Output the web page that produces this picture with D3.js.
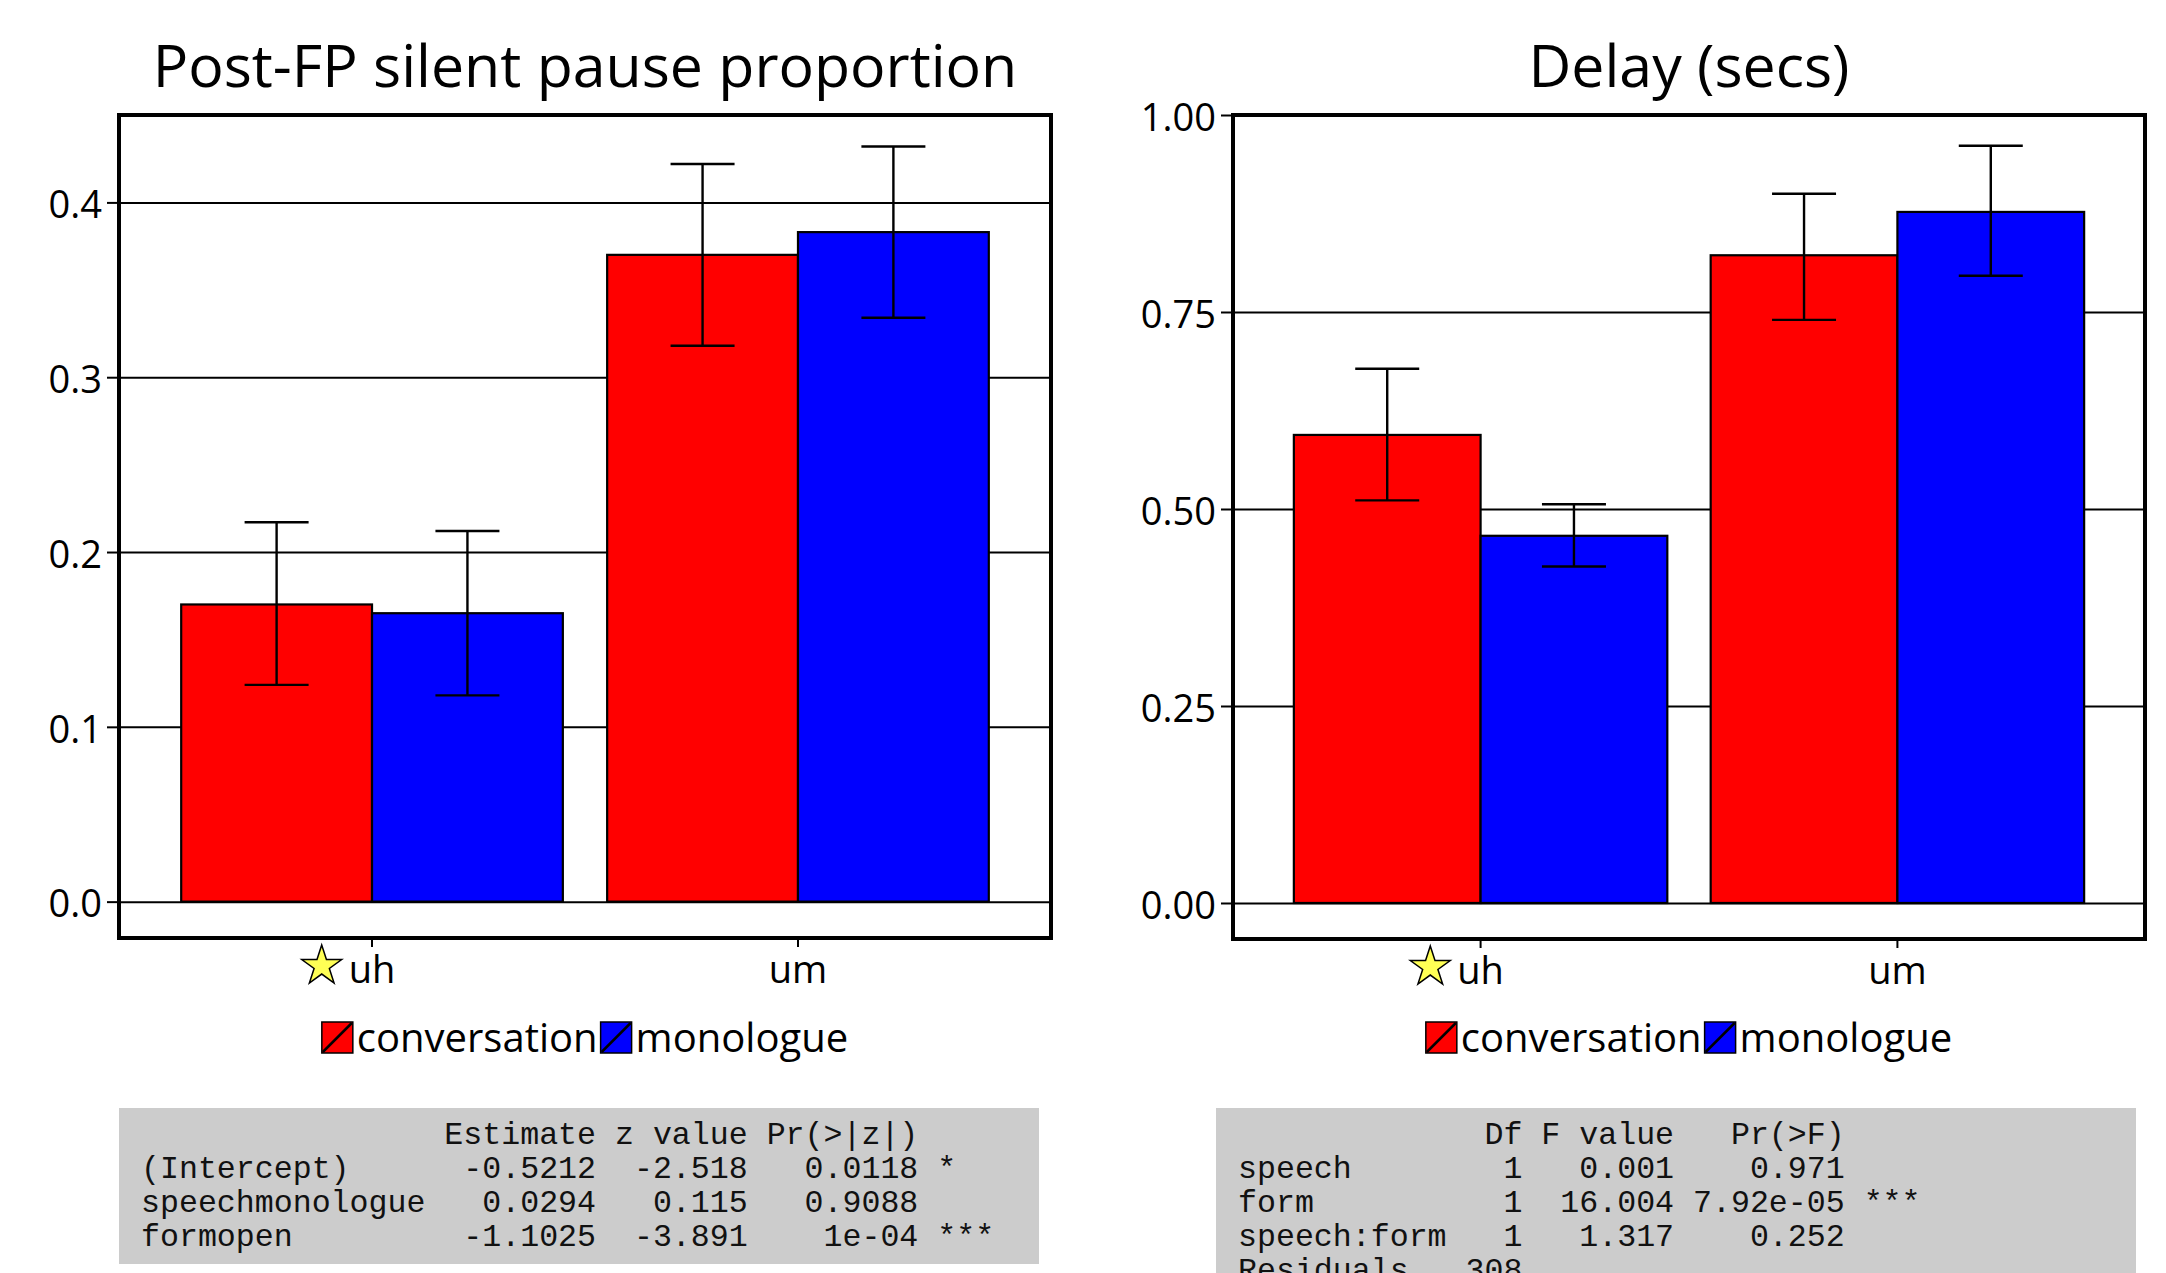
<!DOCTYPE html>
<html>
<head>
<meta charset="utf-8">
<script src="https://cdn.jsdelivr.net/npm/d3@7"></script>
<style>
body { margin: 0; background: #fff; }
</style>
</head>
<body>
<script>
// categories
var forms = ["uh", "um"];
var speech = ["conversation", "monologue"];
var colors = ["#ff0000", "#0000ff"];

// values in order uh-conv, uh-mono, um-conv, um-mono
var pauseMean = [0.170, 0.165, 0.370, 0.383];
var pauseLo   = [0.124, 0.118, 0.318, 0.334];
var pauseHi   = [0.217, 0.212, 0.422, 0.432];
var pauseTicks = [0.0, 0.1, 0.2, 0.3, 0.4];

var delayMean = [0.594, 0.466, 0.822, 0.877];
var delayLo   = [0.511, 0.427, 0.740, 0.796];
var delayHi   = [0.678, 0.506, 0.900, 0.961];
var delayTicks = [0.00, 0.25, 0.50, 0.75, 1.00];

// model output shown under each plot
var glmLines = [
  "                Estimate z value Pr(>|z|)",
  "(Intercept)      -0.5212  -2.518   0.0118 *",
  "speechmonologue   0.0294   0.115   0.9088",
  "formopen         -1.1025  -3.891    1e-04 ***"
];
var anovaLines = [
  "             Df F value   Pr(>F)",
  "speech        1   0.001    0.971",
  "form          1  16.004 7.92e-05 ***",
  "speech:form   1   1.317    0.252",
  "Residuals   308"
];

var W = 2166, H = 1273;
var font = "'Open Sans', sans-serif";

var svg = d3.select("body").append("svg")
    .attr("width", W)
    .attr("height", H)
    .style("font-family", font);

function drawPanel(p) {
  var w = p.right - p.left;
  var cx = (p.left + p.right) / 2;

  var x = d3.scaleBand().domain(forms).range([p.left, p.right])
      .paddingInner(0.104).paddingOuter(0.146);
  var xs = d3.scaleBand().domain(speech).range([0, x.bandwidth()]);
  var y = d3.scaleLinear().domain(p.domain).range([p.bottom, p.top]);

  var g = svg.append("g");

  // title
  g.append("text")
      .attr("x", cx)
      .attr("y", 87)
      .attr("text-anchor", "middle")
      .style("font-size", "59px")
      .text(p.title);

  // horizontal grid lines
  g.append("g")
      .attr("transform", "translate(" + p.left + ",0)")
      .call(d3.axisLeft(y).tickValues(p.ticks).tickSize(-w).tickFormat(""))
      .call(function(s) { s.select(".domain").remove(); })
      .selectAll("line")
      .attr("stroke", "#000")
      .attr("stroke-width", 2);

  var rows = [];
  forms.forEach(function(f, i) {
    speech.forEach(function(s, j) {
      var k = i * 2 + j;
      rows.push({form: f, speech: s, v: p.mean[k], lo: p.lo[k], hi: p.hi[k], c: colors[j]});
    });
  });

  g.selectAll("rect.bar")
    .data(rows)
    .join("rect")
      .attr("class", "bar")
      .attr("x", function(d) { return x(d.form) + xs(d.speech); })
      .attr("y", function(d) { return y(d.v); })
      .attr("width", xs.bandwidth())
      .attr("height", function(d) { return y(0) - y(d.v); })
      .attr("fill", function(d) { return d.c; })
      .attr("stroke", "#000")
      .attr("stroke-width", 2.2);

  // error bars
  var cap = 32;
  var eb = g.selectAll("g.err")
    .data(rows)
    .join("g")
      .attr("class", "err")
      .attr("transform", function(d) {
        return "translate(" + (x(d.form) + xs(d.speech) + xs.bandwidth() / 2) + ",0)";
      });
  eb.append("line")
      .attr("y1", function(d) { return y(d.lo); })
      .attr("y2", function(d) { return y(d.hi); });
  eb.append("line")
      .attr("x1", -cap).attr("x2", cap)
      .attr("y1", function(d) { return y(d.hi); })
      .attr("y2", function(d) { return y(d.hi); });
  eb.append("line")
      .attr("x1", -cap).attr("x2", cap)
      .attr("y1", function(d) { return y(d.lo); })
      .attr("y2", function(d) { return y(d.lo); });
  eb.selectAll("line")
      .attr("stroke", "#000")
      .attr("stroke-width", 2.4);

  // y axis ticks + labels
  g.append("g")
      .attr("transform", "translate(" + p.left + ",0)")
      .call(d3.axisLeft(y).tickValues(p.ticks).tickSize(12).tickPadding(5).tickFormat(d3.format(p.fmt)))
      .attr("font-family", font)
      .attr("font-size", 38)
      .call(function(s) { s.select(".domain").remove(); })
      .call(function(s) {
        s.selectAll("line").attr("stroke", "#000").attr("stroke-width", 2);
        s.selectAll("text").attr("fill", "#000").attr("dy", "0.4em");
      });

  // x axis
  var xa = g.append("g")
      .attr("transform", "translate(0," + p.bottom + ")")
      .call(d3.axisBottom(x).tickSize(9).tickSizeOuter(0))
      .attr("font-family", font)
      .attr("font-size", 38);
  xa.select(".domain").remove();
  xa.selectAll("line").attr("stroke", "#000").attr("stroke-width", 2);
  xa.selectAll("text").attr("fill", "#000").attr("y", 45).attr("dy", 0);

  // star beside "uh"
  xa.selectAll(".tick").filter(function(d) { return d === "uh"; }).each(function() {
    var t = d3.select(this).select("text");
    var bb = t.node().getBBox();
    d3.select(this).append("path")
        .attr("d", d3.symbol(d3.symbolStar).size(495))
        .attr("transform", "translate(" + (bb.x - 27) + ",28)")
        .attr("fill", "#ffff55")
        .attr("stroke", "#000")
        .attr("stroke-width", 1.5);
  });

  // frame
  g.append("rect")
      .attr("x", p.left)
      .attr("y", p.top)
      .attr("width", w)
      .attr("height", p.bottom - p.top)
      .attr("fill", "none")
      .attr("stroke", "#000")
      .attr("stroke-width", 4);

  // legend
  var sq = 31;
  var lg = g.append("g");
  var items = lg.selectAll("g")
    .data(speech)
    .join("g");
  items.append("rect")
      .attr("width", sq).attr("height", sq)
      .attr("fill", function(d, i) { return colors[i]; })
      .attr("stroke", "#000")
      .attr("stroke-width", 1.5);
  items.append("line")
      .attr("x1", 1).attr("y1", sq - 1)
      .attr("x2", sq - 1).attr("y2", 1)
      .attr("stroke", "#000")
      .attr("stroke-width", 2.5);
  items.append("text")
      .attr("x", sq + 4)
      .attr("y", sq - 1)
      .style("font-size", "40px")
      .text(function(d) { return d; });
  var off = 0;
  items.each(function() {
    var tw = d3.select(this).select("text").node().getComputedTextLength();
    d3.select(this).attr("transform", "translate(" + off + ",0)");
    off += sq + 4 + tw + 3;
  });
  off -= 3;
  lg.attr("transform", "translate(" + (cx - off / 2) + ",1022)");

  // gray model-output box
  var tb = g.append("g");
  tb.append("rect")
      .attr("x", p.boxX)
      .attr("y", 1108)
      .attr("width", 920)
      .attr("height", p.boxH)
      .attr("fill", "#cccccc");
  tb.selectAll("text")
    .data(p.lines)
    .join("text")
      .attr("x", p.boxX + 22)
      .attr("y", function(d, i) { return 1144 + i * 34; })
      .attr("xml:space", "preserve")
      .style("white-space", "pre")
      .style("font-family", "'Liberation Mono', monospace")
      .style("font-size", "31.6px")
      .attr("fill", "#111")
      .text(function(d) { return d; });
}

drawPanel({
  title: "Post-FP silent pause proportion",
  left: 119, right: 1051, top: 115, bottom: 938,
  domain: [-0.0208, 0.45],
  ticks: pauseTicks, fmt: ".1f",
  mean: pauseMean, lo: pauseLo, hi: pauseHi,
  boxX: 119, boxH: 156, lines: glmLines
});

drawPanel({
  title: "Delay (secs)",
  left: 1233, right: 2145, top: 115, bottom: 939,
  domain: [-0.0457, 1.0],
  ticks: delayTicks, fmt: ".2f",
  mean: delayMean, lo: delayLo, hi: delayHi,
  boxX: 1216, boxH: 200, lines: anovaLines
});
</script>
</body>
</html>
